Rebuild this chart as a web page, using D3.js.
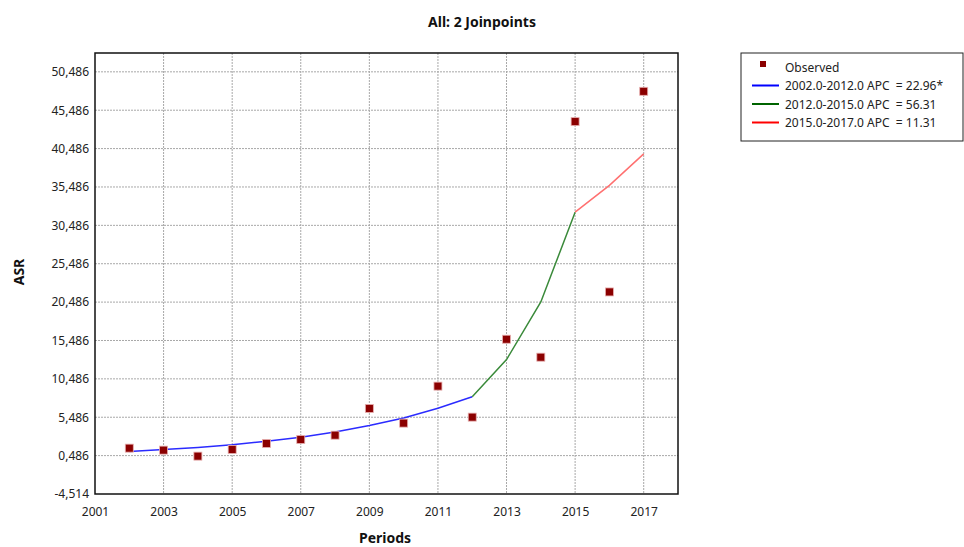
<!DOCTYPE html>
<meta charset="utf-8">
<script src="https://d3js.org/d3.v7.min.js"></script>
<style>
  body { margin: 0; background: #fff; }
  text { font-family: "Noto Sans", "Open Sans", sans-serif; white-space: pre; }
</style>
<div id="chart"></div>
<script>
// observed values
var years = [2002, 2003, 2004, 2005, 2006, 2007, 2008, 2009, 2010, 2011, 2012, 2013, 2014, 2015, 2016, 2017];
var observed = [1.46, 1.20, 0.42, 1.29, 2.07, 2.59, 3.15, 6.63, 4.72, 9.54, 5.50, 15.65, 13.31, 44.0, 21.81, 47.95];

// fitted segments
var seg1Years = [2002, 2003, 2004, 2005, 2006, 2007, 2008, 2009, 2010, 2011, 2012];
var seg1Values = [1.03, 1.27, 1.56, 1.90, 2.35, 2.88, 3.55, 4.40, 5.40, 6.65, 8.15];
var seg2Years = [2012, 2013, 2014, 2015];
var seg2Values = [8.15, 13.0, 20.5, 32.2];
var seg3Years = [2015, 2016, 2017];
var seg3Values = [32.2, 35.7, 39.8];

var xTicks = [2001, 2003, 2005, 2007, 2009, 2011, 2013, 2015, 2017];
var yTicks = [-4.514, 0.486, 5.486, 10.486, 15.486, 20.486, 25.486, 30.486, 35.486, 40.486, 45.486, 50.486];
var legendLabels = ["Observed", "2002.0-2012.0 APC  = 22.96*", "2012.0-2015.0 APC  = 56.31", "2015.0-2017.0 APC  = 11.31"];

var W = 964, H = 547;
var margin = {top: 53, right: 286, bottom: 53, left: 95};
var width = W - margin.left - margin.right,
    height = H - margin.top - margin.bottom;

var svg = d3.select("#chart").append("svg")
    .attr("width", W).attr("height", H);
var g = svg.append("g")
    .attr("transform", "translate(" + margin.left + "," + margin.top + ")");

var x = d3.scaleLinear().domain([2001, 2018]).range([0, width]);
var y = d3.scaleLinear().domain([-4.514, 52.94]).range([height, 0]);

// comma as decimal mark, plain hyphen for minus
var locale = d3.formatLocale({decimal: ",", thousands: ".", grouping: [3], currency: ["", ""], minus: "-"});
var fmt = locale.format(".3f");

// grid
g.selectAll(".vgrid").data(xTicks.slice(1)).enter().append("line")
    .attr("x1", function(d) { return x(d); }).attr("x2", function(d) { return x(d); })
    .attr("y1", 0).attr("y2", height)
    .attr("stroke", "#a8a8a8").attr("stroke-dasharray", "2,1");
g.selectAll(".hgrid").data(yTicks.slice(1)).enter().append("line")
    .attr("x1", 0).attr("x2", width)
    .attr("y1", function(d) { return y(d); }).attr("y2", function(d) { return y(d); })
    .attr("stroke", "#a8a8a8").attr("stroke-dasharray", "2,1");

// axes labels
var xAxis = g.append("g")
    .attr("transform", "translate(0," + height + ")")
    .call(d3.axisBottom(x).tickValues(xTicks).tickFormat(d3.format("d")).tickSize(0).tickPadding(13));
var yAxis = g.append("g")
    .call(d3.axisLeft(y).tickValues(yTicks).tickFormat(fmt).tickSize(0).tickPadding(6));
[xAxis, yAxis].forEach(function(a) {
  a.select(".domain").remove();
  a.selectAll("text").style("font-size", "12px").attr("fill", "#222")
    .style("font-family", "'Noto Sans', sans-serif");
});

// frame
g.append("rect").attr("width", width).attr("height", height)
    .attr("fill", "none").attr("stroke", "#111").attr("stroke-width", 1.5);

// lines
var line = d3.line().x(function(d) { return x(d[0]); }).y(function(d) { return y(d[1]); });
function seg(xs, vs, color, w) {
  g.append("path").datum(d3.zip(xs, vs))
    .attr("d", line).attr("fill", "none")
    .attr("stroke", color).attr("stroke-width", w);
}
seg(seg1Years, seg1Values, "#2b2bff", 1.5);
seg(seg2Years, seg2Values, "#3a8a3a", 1.5);
seg(seg3Years, seg3Values, "#ff7070", 1.5);

// observed markers
g.selectAll(".obs").data(d3.zip(years, observed)).enter().append("rect")
    .attr("x", function(d) { return x(d[0]) - 4; })
    .attr("y", function(d) { return y(d[1]) - 4; })
    .attr("width", 8).attr("height", 8)
    .attr("fill", "#8b0000").attr("stroke", "#e8b0b0").attr("stroke-width", 0.8);

// title and axis titles
svg.append("text").attr("x", 482).attr("y", 27).attr("text-anchor", "middle")
    .style("font-size", "14px").style("font-weight", "bold").attr("fill", "#111")
    .text("All: 2 Joinpoints");
svg.append("text").attr("x", 385).attr("y", 543).attr("text-anchor", "middle")
    .style("font-size", "14px").style("font-weight", "bold").attr("fill", "#111")
    .text("Periods");
svg.append("text").attr("transform", "translate(24,272) rotate(-90)").attr("text-anchor", "middle")
    .style("font-size", "14px").style("font-weight", "bold").attr("fill", "#111")
    .text("ASR");

// legend
var lg = svg.append("g").attr("transform", "translate(741,53)");
lg.append("rect").attr("width", 222).attr("height", 88)
    .attr("fill", "#fff").attr("stroke", "#222").attr("stroke-width", 1);
var legendColors = ["#8b0000", "#0000ff", "#006400", "#ff0000"];
legendLabels.forEach(function(t, i) {
  var cy = 14 + i * 18.5;
  if (i === 0) {
    lg.append("rect").attr("x", 19).attr("y", cy - 6).attr("width", 6).attr("height", 6)
      .attr("fill", legendColors[0]);
  } else {
    lg.append("line").attr("x1", 11).attr("x2", 38).attr("y1", cy).attr("y2", cy)
      .attr("stroke", legendColors[i]).attr("stroke-width", 2);
  }
  lg.append("text").attr("x", 44).attr("y", cy + 4.5)
    .style("font-size", "12px").attr("fill", "#222").text(t);
});
</script>
